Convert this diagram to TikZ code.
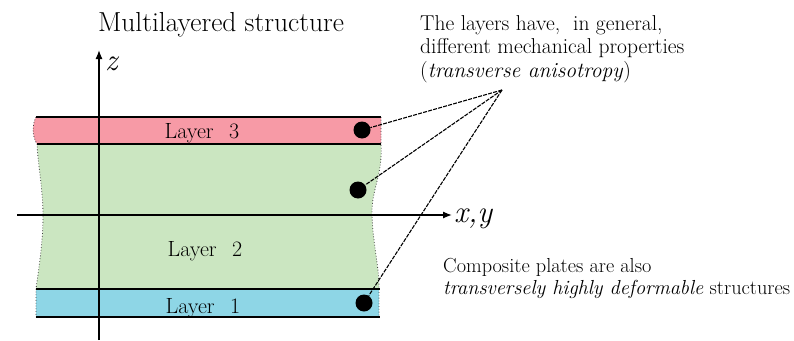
\documentclass[tikz,border=0pt]{standalone}
\usepackage{fontspec}
\usetikzlibrary{arrows.meta}
\definecolor{pinkL}{RGB}{247,154,166}
\definecolor{greenL}{RGB}{203,230,193}
\definecolor{blueL}{RGB}{142,214,230}
\tikzset{
  edgeline/.style={draw=black!75, dotted, line width=0.8pt},
  layerline/.style={draw=black, line width=2pt},
  axisline/.style={draw=black, line width=1.3pt, -{Latex[length=9pt,width=7pt]}},
  dotn/.style={circle, fill=black, minimum size=17pt, inner sep=0pt},
  dashline/.style={draw=black, line width=1.1pt, dash pattern=on 4pt off 1.2pt},
  lbl/.style={font=\fontsize{22}{26}\selectfont, inner sep=0pt},
  txt/.style={font=\fontsize{21.5}{24}\selectfont, inner sep=0pt, anchor=base west},
  txtb/.style={font=\fontsize{20.3}{24}\selectfont, inner sep=0pt, anchor=base west},
  mlbl/.style={font=\fontsize{31}{34}\selectfont\itshape, inner sep=0pt, anchor=base west}
}
\begin{document}
\begin{tikzpicture}[x=1pt,y=-1pt]
\useasboundingbox (0,0) rectangle (794,340);
% layer fills
\fill[pinkL] (36,117) -- (381,117) -- (381,144) -- (37,144) .. controls (32,136) and (32,125) .. (36,117) -- cycle;
\fill[greenL] (37,144) -- (381,144) .. controls (383,175) and (371,190) .. (372,215) .. controls (373,245) and (379,265) .. (379,289) -- (36,289) .. controls (40,260) and (43,240) .. (43,215) .. controls (43,190) and (38,165) .. (37,144) -- cycle;
\fill[blueL] (36,289) -- (379,289) -- (379,317) -- (36,317) -- cycle;
% dotted side edges
\draw[edgeline] (36,117) .. controls (32,125) and (32,136) .. (37,144) .. controls (38,165) and (43,190) .. (43,215) .. controls (43,240) and (40,260) .. (36,289) -- (36,317);
\draw[edgeline] (381,117) -- (381,144) .. controls (383,175) and (371,190) .. (372,215) .. controls (373,245) and (379,265) .. (379,289) -- (379,317);
% layer boundary lines
\draw[layerline] (36,117) -- (381,117);
\draw[draw=black, line width=1.5pt] (37,144) -- (381,144);
\draw[layerline] (36,289) -- (380,289);
\draw[layerline] (36,317) -- (380,317);
% axes
\coordinate (zb) at (99,340);
\coordinate (zt) at (99,50);
\coordinate (xl) at (17,215);
\coordinate (xr) at (452,215);
\draw[axisline] (zb) -- (zt);
\draw[axisline] (xl) -- (xr);
\node[mlbl] (zlab) at (105,70) {z};
\node[mlbl] (xylab) at (454,222) {x,y};
% layer labels
\node[lbl, anchor=base] (L3) at (202,138) {Layer\hspace{0.7em}3};
\node[lbl, anchor=base] (L2) at (205,256) {Layer\hspace{0.7em}2};
\node[lbl, anchor=base] (L1) at (203,313) {Layer\hspace{0.7em}1};
% title
\node[font=\fontsize{27.5}{30}\selectfont, inner sep=0pt, anchor=base] (title) at (221,31) {Multilayered structure};
% dots
\node[dotn] (d3) at (362,130) {};
\node[dotn] (d2) at (358,190) {};
\node[dotn] (d1) at (364,303) {};
\coordinate (apex) at (502,90);
\draw[dashline] (apex) -- (d3);
\draw[dashline] (apex) -- (d2);
\draw[dashline] (apex) -- (d1);
% texts
\node[txt] (t1) at (420,30) {The layers have, \ in general,};
\node[txt] (t2) at (420,53.5) {different mechanical properties};
\node[txt] (t3) at (420,77) {(\textit{transverse anisotropy})};
\node[txtb] (b1) at (443,272) {Composite plates are also};
\node[txtb] (b2) at (443,294) {\textit{transversely highly deformable} structures};
\end{tikzpicture}
\end{document}
